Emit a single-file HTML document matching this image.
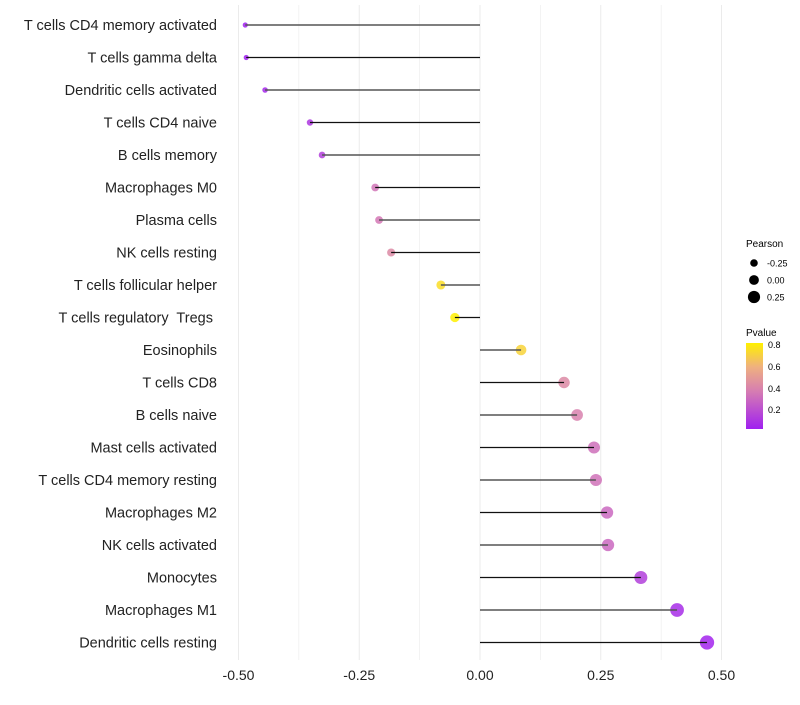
<!DOCTYPE html>
<html><head><meta charset="utf-8"><style>
body{margin:0;background:#fff;font-family:"Liberation Sans",sans-serif}
text{white-space:pre}
</style></head><body>
<svg id="c" width="800" height="700" xmlns="http://www.w3.org/2000/svg">
<defs><linearGradient id="pg" x1="0" y1="1" x2="0" y2="0">
<stop offset="0" stop-color="#a020f0"/><stop offset="0.45" stop-color="#d77fb0"/><stop offset="0.72" stop-color="#efb080"/><stop offset="1" stop-color="#fff000"/>
</linearGradient></defs>
<g id="grid"></g><g id="pts"></g><g id="marks"></g><g id="labels"></g>
<g font-size="10">
<text x="746" y="247">Pearson</text>
<circle cx="754" cy="263" r="3.8" fill="#000"/><text x="767" y="266.5" font-size="9">-0.25</text>
<circle cx="754" cy="280" r="4.9" fill="#000"/><text x="767" y="283.5" font-size="9">0.00</text>
<circle cx="754" cy="297" r="6.1" fill="#000"/><text x="767" y="300.5" font-size="9">0.25</text>
<text x="746" y="336">Pvalue</text>
<rect x="746" y="343" width="17" height="86" fill="url(#pg)"/>
<text x="768" y="348" font-size="9">0.8</text>
<text x="768" y="370" font-size="9">0.6</text>
<text x="768" y="392" font-size="9">0.4</text>
<text x="768" y="413" font-size="9">0.2</text>
</g>
</svg>
<script>
const categories=["T cells CD4 memory activated","T cells gamma delta","Dendritic cells activated","T cells CD4 naive","B cells memory","Macrophages M0","Plasma cells","NK cells resting","T cells follicular helper","T cells regulatory  Tregs ","Eosinophils","T cells CD8","B cells naive","Mast cells activated","T cells CD4 memory resting","Macrophages M2","NK cells activated","Monocytes","Macrophages M1","Dendritic cells resting"];
const pearson=[-0.486,-0.484,-0.445,-0.352,-0.327,-0.217,-0.209,-0.184,-0.081,-0.052,0.085,0.174,0.201,0.236,0.240,0.263,0.265,0.333,0.408,0.470];
const pvalue=[0.03,0.03,0.06,0.12,0.15,0.36,0.37,0.45,0.76,0.82,0.73,0.45,0.41,0.34,0.35,0.31,0.31,0.15,0.08,0.05];
const ticks=[-0.5,-0.25,0,0.25,0.5];
const tickLabels=["-0.50","-0.25","0.00","0.25","0.50"];
const NS="http://www.w3.org/2000/svg";
const xs=v=>480+v*483, ys=i=>25+i*32.5, rs=v=>4.9+v*4.8;
function col(p){const st=[[0.03,[160,32,240]],[0.4,[215,127,176]],[0.62,[239,176,128]],[0.82,[255,240,0]]];
p=Math.max(0.03,Math.min(0.82,p));for(let k=0;k<st.length-1;k++){const[a,ca]=st[k],[b,cb]=st[k+1];if(p<=b){const t=(p-a)/(b-a);return`rgb(${ca.map((c,j)=>Math.round(c+(cb[j]-c)*t)).join(',')})`;}}return"rgb(255,240,0)";}
function mk(t,a,p){const e=document.createElementNS(NS,t);for(const k in a)e.setAttribute(k,a[k]);p.appendChild(e);return e;}
const g=document.getElementById('grid'),pg=document.getElementById('pts'),m=document.getElementById('marks'),l=document.getElementById('labels');
for(let v=-0.5;v<=0.501;v+=0.125){const e=mk('line',{x1:xs(v),x2:xs(v),y1:5,y2:660,stroke:'#ebebeb','stroke-width':Math.abs(v*4%1)<1e-6?1:0.6},g);

}
ticks.forEach((v,i)=>{const t=mk('text',{x:xs(v),y:680,'text-anchor':'middle','font-size':14,fill:'#222'},l);t.textContent=tickLabels[i];

});
categories.forEach((c,i)=>{const y=ys(i);
const ci=mk('circle',{cx:xs(pearson[i]),cy:y,r:rs(pearson[i]),fill:col(pvalue[i]),'fill-opacity':0.85},pg);


const ln=mk('line',{x1:xs(0),x2:xs(pearson[i]),y1:y,y2:y,stroke:i%2?'#111':'#555','stroke-width':i%2?1.2:1.6},m);


const t=mk('text',{x:217,y:y+5,'text-anchor':'end','font-size':14.5,fill:'#222'},l);t.textContent=c;

});
</script>
</body></html>
